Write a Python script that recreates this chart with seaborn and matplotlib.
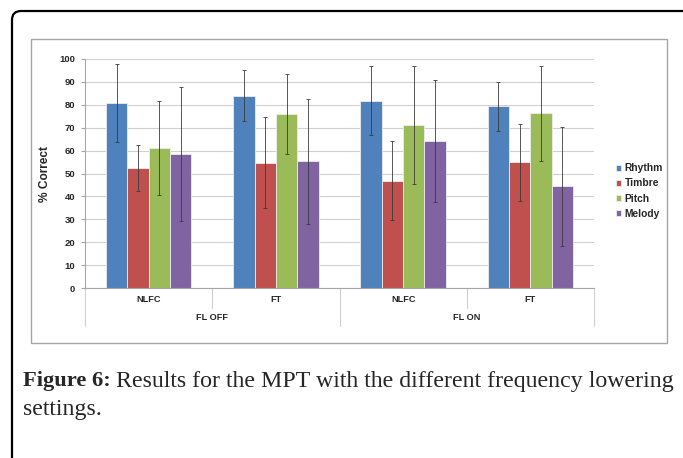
import pandas as pd
import matplotlib
matplotlib.use("Agg")
import matplotlib.pyplot as plt
import matplotlib.transforms as mtransforms
from matplotlib.patches import FancyBboxPatch, Rectangle
import seaborn as sns

# DATA
# ----
conditions = ["NLFC", "FT", "NLFC", "FT"]
fl_setting = ["FL OFF", "FL OFF", "FL ON", "FL ON"]
measures = ["Rhythm", "Timbre", "Pitch", "Melody"]

rhythm = [80.6, 84.0, 81.8, 79.3]
timbre = [52.4, 54.7, 46.9, 54.9]
pitch = [61.3, 76.0, 71.0, 76.3]
melody = [58.5, 55.3, 64.2, 44.4]

rhythm_sd = [17.0, 11.0, 15.0, 10.7]
timbre_sd = [10.2, 19.9, 17.2, 16.7]
pitch_sd = [20.5, 17.3, 25.8, 20.8]
melody_sd = [29.2, 27.2, 26.7, 26.0]

colors = ["#4F81BD", "#C0504D", "#9BBB59", "#8064A2"]

# build long table
groups = [f"{c}\n{f}" for c, f in zip(conditions, fl_setting)]
rows = []
for m, vals, sds in zip(measures, [rhythm, timbre, pitch, melody],
                        [rhythm_sd, timbre_sd, pitch_sd, melody_sd]):
    for g, v, s in zip(groups, vals, sds):
        rows.append({"group": g, "measure": m, "score": v, "sd": s})
df = pd.DataFrame(rows)

sns.set_style("white")
plt.rcParams["font.family"] = ["Liberation Sans", "DejaVu Sans"]

W, H = 683, 458
fig = plt.figure(figsize=(W / 100, H / 100), dpi=100)

# background layer in pixel coordinates
bg = fig.add_axes([0, 0, 1, 1], zorder=-1)
bg.set_xlim(0, W)
bg.set_ylim(H, 0)
bg.axis("off")
bg.add_patch(FancyBboxPatch((12, 11), 720, 500,
                            boxstyle="round,pad=0,rounding_size=9",
                            fc="white", ec="black", lw=1.6))
bg.add_patch(Rectangle((31, 39), 636, 304, fc="white", ec="#A6A6A6", lw=1.0))

# PLOT
# ----
ax = fig.add_axes([85 / W, 1 - 288 / H, (594 - 85) / W, (288 - 59) / H])
sns.barplot(data=df, x="group", y="score", hue="measure", palette=colors,
            saturation=1, width=0.67, errorbar=None, edgecolor="#EDEDED",
            linewidth=0.6, ax=ax, zorder=2)

# error bars from sd values
for cont, m in zip(ax.containers, measures):
    sub = df[df["measure"] == m]
    xs = [p.get_x() + p.get_width() / 2 for p in cont.patches]
    ax.errorbar(xs, sub["score"], yerr=sub["sd"], fmt="none",
                ecolor="#3A3A3A", elinewidth=0.6, capsize=1.6,
                capthick=0.6, zorder=3)

ax.set_xlim(-0.5, 3.5)
ax.set_ylim(0, 100)
ax.set_yticks(range(0, 101, 10))
ax.set_yticklabels([str(v) for v in range(0, 101, 10)],
                   fontsize=6.8, fontweight="bold", color="#262626")
ax.yaxis.grid(True, color="#D0D0D0", lw=0.8, zorder=0)
ax.set_axisbelow(True)
ax.tick_params(axis="y", length=3, width=0.8, color="#A6A6A6", pad=4, left=True)
ax.set_ylabel("% Correct", fontsize=8.6, fontweight="bold", labelpad=6)
ax.set_xlabel("")

for side in ["top", "right"]:
    ax.spines[side].set_visible(False)
ax.spines["left"].set_color("#A6A6A6")
ax.spines["bottom"].set_color("#A6A6A6")
ax.spines["left"].set_linewidth(0.8)
ax.spines["bottom"].set_linewidth(0.8)

# two-level category axis
ax.set_xticks(range(4))
ax.set_xticklabels([])
ax.tick_params(axis="x", length=0)
trans = mtransforms.blended_transform_factory(ax.transData, ax.transAxes)
for i, c in enumerate(conditions):
    ax.text(i, -0.052, c, transform=trans, ha="center", va="center",
            fontsize=6.6, fontweight="bold", color="#262626")
for x0, f in [(0.5, "FL OFF"), (2.5, "FL ON")]:
    ax.text(x0, -0.131, f, transform=trans, ha="center", va="center",
            fontsize=6.6, fontweight="bold", color="#262626")
for x0 in [-0.5, 1.5, 3.5]:
    ax.plot([x0, x0], [0, -0.165], transform=trans, color="#D0D0D0",
            lw=0.8, clip_on=False)
for x0 in [0.5, 2.5]:
    ax.plot([x0, x0], [0, -0.088], transform=trans, color="#D0D0D0",
            lw=0.8, clip_on=False)

# legend
ax.legend(loc="center left", bbox_to_anchor=(607 / W, 1 - 191 / H),
          bbox_transform=fig.transFigure, frameon=False,
          handlelength=0.5, handleheight=0.5, handletextpad=0.3,
          labelspacing=0.5, prop={"weight": "bold", "size": 7.4})

# caption
serif = ["Liberation Serif", "DejaVu Serif"]
t1 = bg.text(23, 381, "Figure 6:", fontsize=16.2, fontweight="bold",
             family=serif, va="center", ha="left")
fig.canvas.draw()
bb = t1.get_window_extent(renderer=fig.canvas.get_renderer())
x_end = bb.x1 + 5
bg.text(x_end, 381,
        "Results for the MPT with the different frequency lowering",
        fontsize=17.2, family=serif, va="center", ha="left")
bg.text(23, 409, "settings.", fontsize=17.2, family=serif,
        va="center", ha="left")

plt.savefig("out.png", dpi=100)
